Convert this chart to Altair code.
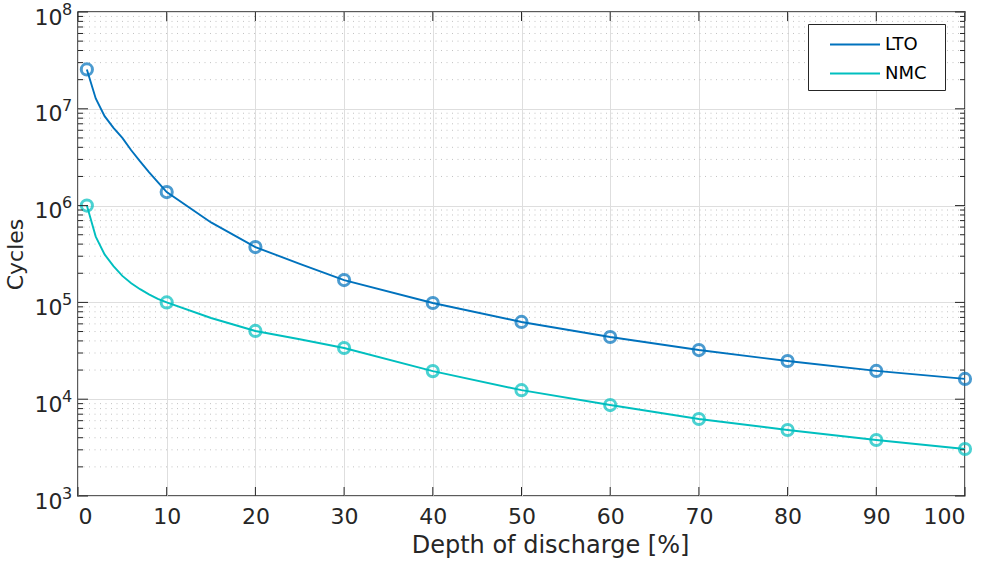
import altair as alt
import pandas as pd

FONT = "DejaVu Sans"
INK = "#262626"

# Cycle life versus depth of discharge (log scale)
line_dod = [1, 2, 3, 4, 5, 6, 7, 8, 9, 10, 15, 20, 25, 30, 40, 50, 60, 70, 80, 90, 100]
lto_line = [2.55e7, 1.28e7, 8.4e6, 6.35e6, 5.0e6, 3.73e6, 2.86e6, 2.22e6, 1.75e6, 1.38e6,
            6.7e5, 3.73e5, 2.5e5, 1.70e5, 9.86e4, 6.28e4, 4.39e4, 3.22e4, 2.48e4, 1.96e4, 1.62e4]
nmc_line = [1.0e6, 4.78e5, 3.13e5, 2.37e5, 1.88e5, 1.58e5, 1.37e5, 1.21e5, 1.09e5, 1.0e5,
            6.9e4, 5.07e4, 4.16e4, 3.38e4, 1.95e4, 1.24e4, 8.7e3, 6.24e3, 4.81e3, 3.79e3, 3.06e3]

marker_dod = [1, 10, 20, 30, 40, 50, 60, 70, 80, 90, 100]
lto_markers = [2.55e7, 1.38e6, 3.73e5, 1.70e5, 9.86e4, 6.28e4, 4.39e4, 3.22e4, 2.48e4, 1.96e4, 1.62e4]
nmc_markers = [1.0e6, 1.0e5, 5.07e4, 3.38e4, 1.95e4, 1.24e4, 8.7e3, 6.24e3, 4.81e3, 3.79e3, 3.06e3]

series_names = ["LTO", "NMC"]
series_colors = ["#0072BD", "#00BFBF"]

x_ticks = list(range(0, 101, 10))
y_decades = [1e3, 1e4, 1e5, 1e6, 1e7, 1e8]
y_exponents = ["3", "4", "5", "6", "7", "8"]
y_minor = [m * 10 ** k for k in range(3, 8) for m in range(2, 10)]

W, H = 887, 484

lines = pd.DataFrame({
    "dod": line_dod * 2,
    "cycles": lto_line + nmc_line,
    "series": ["LTO"] * len(line_dod) + ["NMC"] * len(line_dod),
})
lto_pts = pd.DataFrame({"dod": marker_dod, "cycles": lto_markers})
nmc_pts = pd.DataFrame({"dod": marker_dod, "cycles": nmc_markers})
xt = pd.DataFrame({"dod": x_ticks})
yt = pd.DataFrame({"cycles": y_decades, "exp": y_exponents})
ym = pd.DataFrame({"cycles": y_minor})

x_scale = alt.Scale(domain=[0, 100], nice=False, zero=False)
y_scale = alt.Scale(type="log", domain=[1e3, 1e8], nice=False)

x_axis = alt.Axis(
    values=x_ticks, title="Depth of discharge [%]", grid=True, gridColor="#dedede",
    gridWidth=1, ticks=False, domain=False, labelFont=FONT, labelFontSize=22,
    labelColor=INK, labelPadding=10, titleFont=FONT, titleFontSize=24,
    titleFontWeight="normal", titleColor=INK, titlePadding=6, titleX=472,
)
y_axis = alt.Axis(
    values=y_decades, title="Cycles", grid=True, gridColor="#dedede", gridWidth=1,
    ticks=False, domain=False, labelFont=FONT, labelFontSize=22, labelColor=INK,
    labelPadding=16, labelExpr="'10'", labelBaseline="middle", labelOffset=5,
    titleFont=FONT, titleFontSize=22, titleFontWeight="normal", titleColor=INK,
    titlePadding=7,
)

X = alt.X("dod:Q", scale=x_scale, axis=x_axis)
Y = alt.Y("cycles:Q", scale=y_scale, axis=y_axis)

# dotted minor grid on the log axis
minor_grid = alt.Chart(ym).mark_rule(color="#c2c2c2", strokeWidth=1, strokeDash=[1, 4.5]).encode(
    y=Y, x=alt.value(0), x2=alt.value(W)
)

curve = alt.Chart(lines).mark_line(strokeWidth=1.9).encode(
    x=X, y=Y,
    color=alt.Color(
        "series:N",
        scale=alt.Scale(domain=series_names, range=series_colors),
        legend=alt.Legend(
            orient="none", legendX=730, legendY=12,
            # long horizontal stroke sample, drawn to the right of the symbol centre
            symbolType="M-1,0H3", symbolSize=625, symbolStrokeWidth=1.8,
            symbolOffset=14, labelOffset=29, rowPadding=6,
            labelFont=FONT, labelFontSize=18, labelColor="#000000",
            strokeColor=INK, fillColor="white", padding=7,
            title="\u00a0", titleOrient="right", titlePadding=11, titleFontSize=2,
        ),
    ),
)

# open circle markers every 10 % of depth of discharge
marker_style = dict(shape="circle", filled=False, size=125, strokeWidth=3)
lto_marks = alt.Chart(lto_pts).mark_point(color=series_colors[0], **marker_style).encode(x=X, y=Y)
nmc_marks = alt.Chart(nmc_pts).mark_point(color=series_colors[1], **marker_style).encode(x=X, y=Y)

# decade exponents written as superscripts beside the "10" labels
exponents = alt.Chart(yt).mark_text(
    font=FONT, fontSize=16, color=INK, align="left", baseline="alphabetic", dx=-16, dy=2.5
).encode(y=Y, x=alt.value(0), text="exp:N")

# inward-pointing ticks on all four sides
tick_rule = dict(color=INK, strokeWidth=1)
y_major_l = alt.Chart(yt).mark_rule(**tick_rule).encode(y=Y, x=alt.value(0), x2=alt.value(10))
y_major_r = alt.Chart(yt).mark_rule(**tick_rule).encode(y=Y, x=alt.value(W - 10), x2=alt.value(W))
y_minor_l = alt.Chart(ym).mark_rule(**tick_rule).encode(y=Y, x=alt.value(0), x2=alt.value(5))
y_minor_r = alt.Chart(ym).mark_rule(**tick_rule).encode(y=Y, x=alt.value(W - 5), x2=alt.value(W))
x_major_b = alt.Chart(xt).mark_rule(**tick_rule).encode(x=X, y=alt.value(H), y2=alt.value(H - 9))
x_major_t = alt.Chart(xt).mark_rule(**tick_rule).encode(x=X, y=alt.value(0), y2=alt.value(9))

chart = alt.layer(
    minor_grid, lto_marks, nmc_marks, curve, exponents,
    y_major_l, y_major_r, y_minor_l, y_minor_r, x_major_b, x_major_t,
).properties(
    width=W, height=H,
    autosize=alt.AutoSizeParams(type="none"),
    padding={"left": 78, "top": 12, "right": 24, "bottom": 73},
    background="white",
).configure_view(
    stroke=INK, strokeWidth=1.5,
)

chart.save("out.html", embed_options={"renderer": "svg", "actions": False})
